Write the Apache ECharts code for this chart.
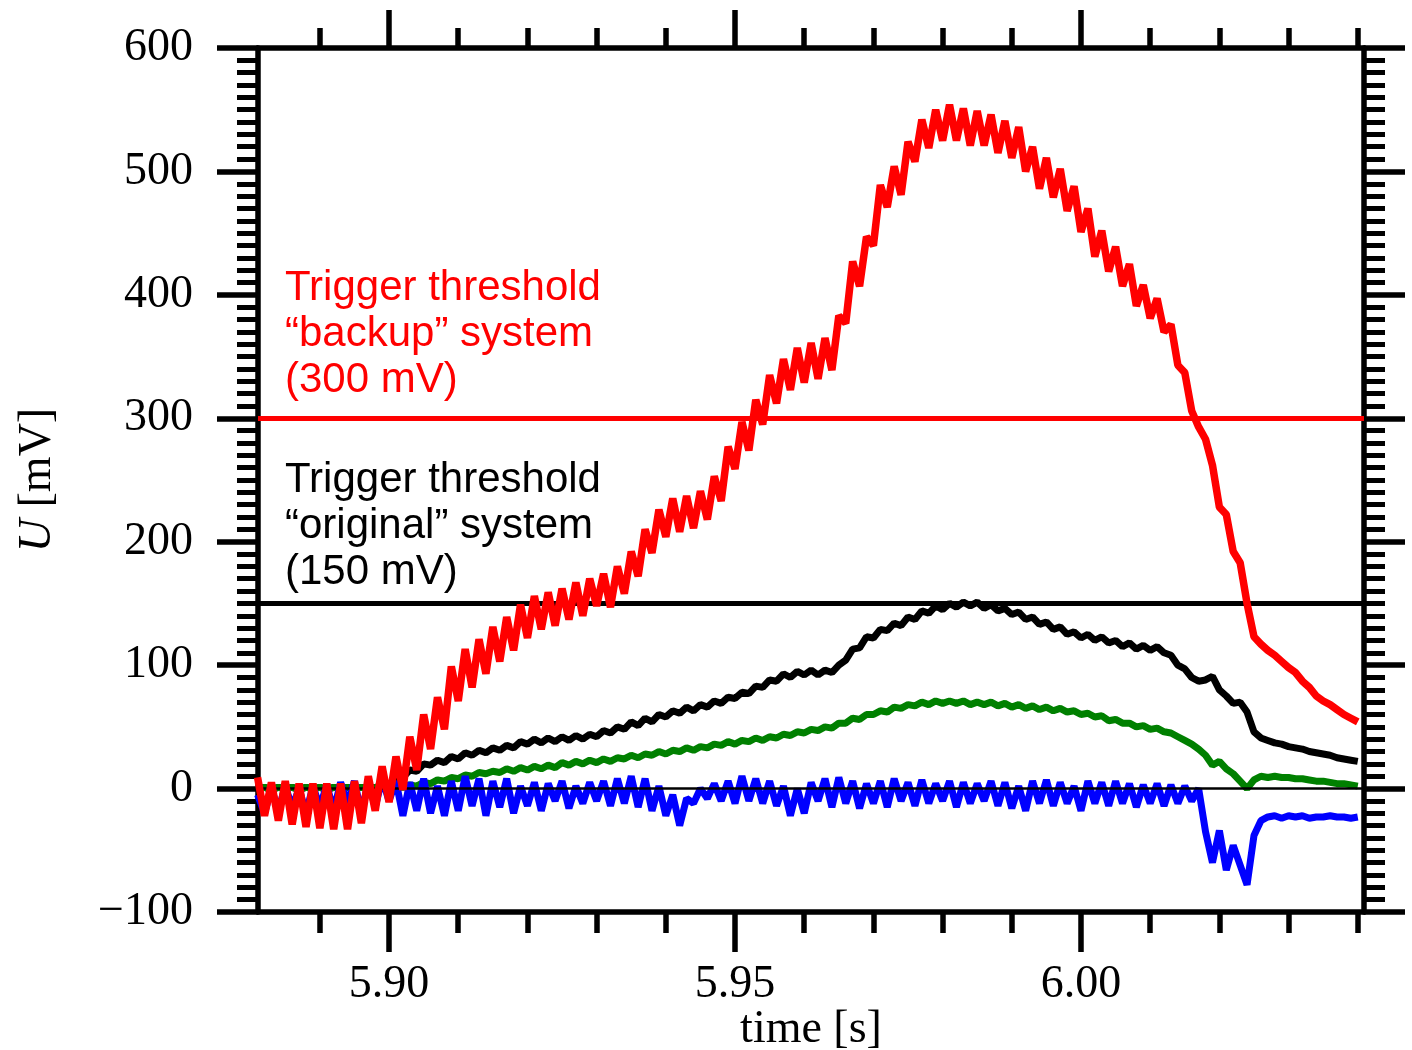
<!DOCTYPE html>
<html>
<head>
<meta charset="utf-8">
<script src="https://cdn.jsdelivr.net/npm/echarts@6/dist/echarts.min.js"></script>
<style>
  html, body { margin: 0; padding: 0; background: #fff; }
  #chart { width: 1412px; height: 1050px; }
</style>
</head>
<body>
<div id="chart"></div>
<script>
// sample times [ms]
var timeMs = [
  5881, 5882, 5883, 5884, 5885, 5886, 5887, 5888, 5889, 5890,
  5891, 5892, 5893, 5894, 5895, 5896, 5897, 5898, 5899, 5900,
  5901, 5902, 5903, 5904, 5905, 5906, 5907, 5908, 5909, 5910,
  5911, 5912, 5913, 5914, 5915, 5916, 5917, 5918, 5919, 5920,
  5921, 5922, 5923, 5924, 5925, 5926, 5927, 5928, 5929, 5930,
  5931, 5932, 5933, 5934, 5935, 5936, 5937, 5938, 5939, 5940,
  5941, 5942, 5943, 5944, 5945, 5946, 5947, 5948, 5949, 5950,
  5951, 5952, 5953, 5954, 5955, 5956, 5957, 5958, 5959, 5960,
  5961, 5962, 5963, 5964, 5965, 5966, 5967, 5968, 5969, 5970,
  5971, 5972, 5973, 5974, 5975, 5976, 5977, 5978, 5979, 5980,
  5981, 5982, 5983, 5984, 5985, 5986, 5987, 5988, 5989, 5990,
  5991, 5992, 5993, 5994, 5995, 5996, 5997, 5998, 5999, 6000,
  6001, 6002, 6003, 6004, 6005, 6006, 6007, 6008, 6009, 6010,
  6011, 6012, 6013, 6014, 6015, 6016, 6017, 6018, 6019, 6020,
  6021, 6022, 6023, 6024, 6025, 6026, 6027, 6028, 6029, 6030,
  6031, 6032, 6033, 6034, 6035, 6036, 6037, 6038, 6039, 6040
];

// signal U [mV]
var redU = [
  9, -22, 5, -26, 6, -29, 4, -31, 4, -32,
  4, -33, 4, -33, 6, -28, 10, -18, 18, -11,
  26, -1, 42, 15, 60, 32, 74, 48, 99, 71,
  113, 82, 121, 93, 131, 103, 139, 112, 149, 122,
  156, 129, 159, 132, 162, 137, 167, 140, 170, 148,
  174, 147, 180, 158, 192, 172, 210, 191, 226, 204,
  235, 208, 237, 211, 241, 218, 253, 233, 277, 259,
  297, 274, 315, 295, 335, 312, 348, 323, 357, 329,
  361, 332, 365, 339, 383, 377, 427, 407, 447, 440,
  489, 471, 504, 481, 524, 508, 542, 519, 550, 525,
  554, 525, 551, 521, 549, 521, 546, 515, 541, 511,
  536, 500, 520, 486, 511, 479, 502, 468, 488, 451,
  470, 431, 452, 419, 439, 407, 425, 391, 408, 381,
  397, 370, 376, 343, 337, 306, 293, 283, 262, 228,
  222, 192, 183, 150, 123, 117, 112, 108, 103, 98,
  94, 87, 82, 75, 71, 68, 64, 60, 57, 54
];
var blackU = [
  0, 1, -1, 1, 0, 1, -1, 1, 0, 1,
  -1, 1, 0, 1, 0, 1, 0, 1, 1, 2,
  5, 9, 15, 14, 20, 19, 23, 21, 26, 24,
  29, 27, 31, 29, 33, 31, 35, 33, 38, 36,
  40, 37, 41, 38, 42, 39, 43, 40, 44, 42,
  47, 45, 50, 48, 54, 51, 57, 54, 60, 58,
  63, 61, 66, 63, 68, 66, 71, 69, 74, 73,
  78, 77, 83, 82, 88, 87, 93, 90, 95, 92,
  96, 92, 96, 94, 100, 104, 113, 114, 123, 122,
  129, 128, 134, 132, 139, 137, 144, 142, 148, 145,
  150, 147, 151, 148, 151, 146, 149, 144, 146, 141,
  143, 137, 139, 133, 135, 129, 131, 125, 127, 122,
  125, 120, 123, 118, 120, 115, 118, 113, 116, 112,
  115, 110, 108, 100, 97, 90, 87, 88, 91, 80,
  75, 69, 70, 62, 46, 41, 39, 37, 36, 34,
  33, 32, 30, 29, 28, 27, 25, 24, 23, 22
];
var greenU = [
  0, 1, 0, 1, 0, 1, 0, 1, 0, 1,
  0, 1, 0, 1, 0, 1, 0, 1, 0, 1,
  1, 1, 3, 2, 5, 4, 7, 6, 9, 8,
  11, 10, 13, 12, 14, 13, 16, 14, 17, 15,
  18, 16, 19, 17, 21, 19, 22, 20, 23, 21,
  24, 22, 25, 24, 27, 25, 28, 27, 30, 28,
  31, 30, 33, 31, 34, 33, 36, 35, 38, 36,
  39, 38, 41, 39, 42, 41, 44, 43, 46, 45,
  48, 47, 50, 49, 53, 53, 57, 56, 60, 60,
  63, 62, 66, 65, 68, 67, 70, 68, 71, 69,
  71, 69, 71, 68, 70, 68, 70, 67, 69, 66,
  68, 65, 67, 64, 66, 63, 65, 62, 63, 60,
  61, 58, 59, 55, 56, 53, 53, 50, 51, 48,
  49, 46, 45, 42, 39, 36, 32, 27, 19, 22,
  16, 12, 6, 0, 7, 10, 9, 10, 9, 9,
  8, 8, 7, 6, 6, 5, 4, 4, 3, 2
];
var blueU = [
  -5, -20, 0, -18, 2, -15, 0, -20, 2, -15,
  3, -18, 5, -12, 6, -20, 5, -15, 8, -10,
  6, -22, 5, -18, 8, -20, 2, -22, 6, -18,
  10, -14, 8, -22, 6, -15, 8, -20, 2, -14,
  5, -18, 4, -10, 6, -16, 2, -12, 5, -10,
  6, -14, 8, -12, 10, -15, 8, -18, 2, -22,
  -5, -30, -8, -12, 0, -8, 4, -10, 6, -12,
  10, -10, 8, -12, 6, -14, 2, -22, 0, -20,
  5, -10, 8, -15, 9, -12, 6, -16, 4, -12,
  6, -15, 8, -10, 5, -14, 7, -12, 4, -10,
  6, -15, 5, -12, 4, -10, 6, -14, 5, -16,
  2, -18, 6, -12, 7, -14, 5, -12, 2, -18,
  6, -12, 5, -14, 6, -12, 4, -15, 3, -12,
  4, -14, 3, -12, 2, -10, 0, -35, -60, -34,
  -66, -46, -62, -78, -38, -26, -23, -22, -24, -22,
  -23, -22, -24, -23, -23, -22, -23, -23, -24, -23
];

var thresholdBackup = 300;
var thresholdOriginal = 150;

var xMajorTicks = [5.90, 5.95, 6.00];
var xMinorTicks = [5.89, 5.91, 5.92, 5.93, 5.94, 5.96, 5.97, 5.98, 5.99, 6.01, 6.02, 6.03, 6.04];

var X_MIN = 5.88106, X_MAX = 6.0409;
var SERIF = '"Liberation Serif", "Times New Roman", serif';
var SANS = '"Liberation Sans", Arial, sans-serif';
var AXW = 5.5;

function pairs(arr) {
  return timeMs.map(function (t, i) { return [t / 1000, arr[i]]; });
}

function xAxisOf(pos, ticks, len, withLine, withLabel) {
  var ax = {
    type: 'value',
    position: pos,
    min: X_MIN,
    max: X_MAX,
    axisLine: { show: withLine, onZero: false, lineStyle: { color: '#000', width: AXW } },
    axisTick: { show: true, inside: false, customValues: ticks, length: len, lineStyle: { color: '#000', width: AXW } },
    axisLabel: { show: false },
    splitLine: { show: false }
  };
  if (withLabel) {
    ax.axisLabel = {
      show: true,
      customValues: ticks,
      formatter: function (v) { return v.toFixed(2); },
      margin: 50,
      fontSize: 46,
      fontFamily: SERIF,
      color: '#000'
    };
    ax.name = 'time [s]';
    ax.nameLocation = 'middle';
    ax.nameGap = 95;
    ax.nameMoveOverlap = false;
    ax.nameTextStyle = { fontSize: 46, fontFamily: SERIF, color: '#000' };
  }
  return ax;
}

function yAxisOf(pos, withLabel) {
  var ax = {
    type: 'value',
    position: pos,
    min: -100,
    max: 600,
    interval: 100,
    axisLine: { show: true, onZero: false, lineStyle: { color: '#000', width: AXW } },
    axisTick: { show: true, inside: false, length: 41, lineStyle: { color: '#000', width: AXW } },
    minorTick: { show: true, splitNumber: 10, length: 21, lineStyle: { color: '#000', width: 5 } },
    axisLabel: { show: false },
    splitLine: { show: false },
    minorSplitLine: { show: false }
  };
  if (withLabel) {
    ax.axisLabel = {
      show: true,
      margin: 65,
      fontSize: 46,
      fontFamily: SERIF,
      color: '#000',
      formatter: function (v) { return v < 0 ? '\u2212' + Math.abs(v) : String(v); }
    };
    ax.name = '{i|U} [mV]';
    ax.nameLocation = 'middle';
    ax.nameRotate = 90;
    ax.nameGap = 197;
    ax.nameMoveOverlap = false;
    ax.nameTextStyle = {
      fontSize: 46, fontFamily: SERIF, color: '#000',
      rich: { i: { fontStyle: 'italic', fontSize: 46, fontFamily: SERIF, color: '#000' } }
    };
  }
  return ax;
}

var myChart = echarts.init(document.getElementById('chart'));
var option = {
  animation: false,
  backgroundColor: '#fff',
  grid: { left: 258, right: 48, top: 48, bottom: 138, containLabel: false, outerBoundsMode: 'none' },
  xAxis: [
    xAxisOf('bottom', xMajorTicks, 40, true, true),
    xAxisOf('bottom', xMinorTicks, 21, false, false),
    xAxisOf('top', xMajorTicks, 38, true, false),
    xAxisOf('top', xMinorTicks, 20, false, false)
  ],
  yAxis: [
    yAxisOf('left', true),
    yAxisOf('right', false)
  ],
  graphic: [
    {
      type: 'text', left: 285, top: 265, z: 10,
      style: { text: 'Trigger threshold\n\u201cbackup\u201d system\n(300 mV)', fill: '#ff0000', font: '42px ' + SANS, lineHeight: 46 }
    },
    {
      type: 'text', left: 285, top: 457, z: 10,
      style: { text: 'Trigger threshold\n\u201coriginal\u201d system\n(150 mV)', fill: '#000', font: '42px ' + SANS, lineHeight: 46 }
    }
  ],
  series: [
    {
      name: 'black',
      type: 'line',
      z: 2,
      showSymbol: false,
      data: pairs(blackU),
      lineStyle: { color: '#000', width: 7 },
      markLine: {
        silent: true,
        symbol: 'none',
        label: { show: false },
        data: [
          { yAxis: 0, lineStyle: { color: '#000', width: 2.5, type: 'solid' } },
          { yAxis: thresholdOriginal, lineStyle: { color: '#000', width: 5, type: 'solid' } },
          { yAxis: thresholdBackup, lineStyle: { color: '#ff0000', width: 5, type: 'solid' } }
        ]
      }
    },
    {
      name: 'green', type: 'line', z: 3, showSymbol: false,
      data: pairs(greenU), lineStyle: { color: '#008000', width: 7 }
    },
    {
      name: 'blue', type: 'line', z: 4, showSymbol: false,
      data: pairs(blueU), lineStyle: { color: '#0000ff', width: 7 }
    },
    {
      name: 'red', type: 'line', z: 5, showSymbol: false,
      data: pairs(redU), lineStyle: { color: '#ff0000', width: 7.5 }
    }
  ]
};
myChart.setOption(option);
window.addEventListener('resize', function () {
  myChart.resize();
});
</script>
</body>
</html>
